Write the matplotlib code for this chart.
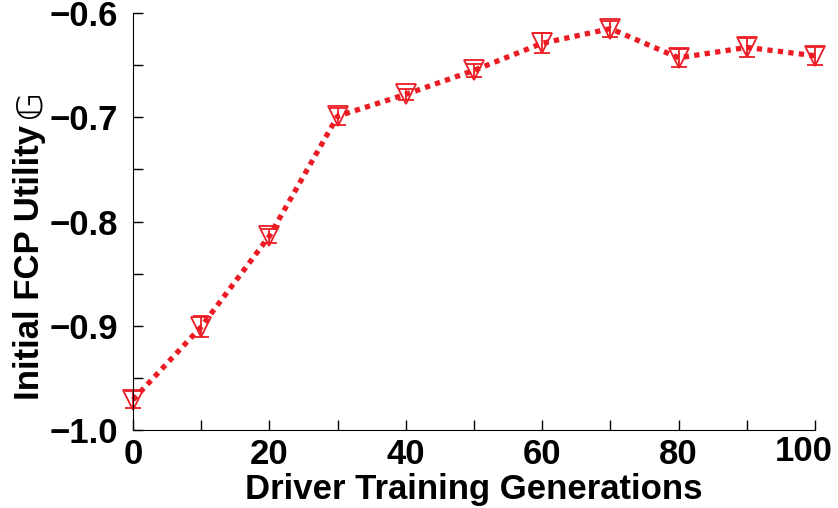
import matplotlib.pyplot as plt
from matplotlib.ticker import MultipleLocator

generations = [0, 10, 20, 30, 40, 50, 60, 70, 80, 90, 100]
utility = [-0.971, -0.901, -0.814, -0.699, -0.678, -0.655, -0.629, -0.615, -0.643, -0.633, -0.641]
errors = [0.008, 0.010, 0.007, 0.008, 0.005, 0.006, 0.0095, 0.0077, 0.0086, 0.009, 0.0086]
xticks = [0, 20, 40, 60, 80, 100]
yticks = [-1.0, -0.9, -0.8, -0.7, -0.6]

plt.rcParams['font.family'] = ['Liberation Sans', 'DejaVu Sans']

fig = plt.figure(figsize=(8.38, 5.08), dpi=100)
ax = fig.add_axes([0.1587, 0.1535, 0.8139, 0.8209])

red = '#ed1c24'
eb = ax.errorbar(generations, utility, yerr=errors, color=red, linestyle=(0, (1, 1)), linewidth=3.8,
                 marker='v', markersize=14, markerfacecolor='none', markeredgecolor=red,
                 markeredgewidth=1.3, ecolor=red, elinewidth=1.3, capsize=5.5, capthick=1.3)
for art in eb.get_children():
    art.set_clip_on(False)   # end markers hang over the axes edges like in the original

ax.set_xlim(0, 100)
ax.set_ylim(-1.0, -0.6)
ax.set_xticks(xticks)
ax.set_xticklabels([str(t) for t in xticks[:-1]] + [''], fontweight='bold')
ax.xaxis.set_minor_locator(MultipleLocator(10))
ax.set_yticks(yticks)
ax.set_yticklabels(['\u2212%.1f' % abs(t) for t in yticks], fontweight='bold')
ax.yaxis.set_minor_locator(MultipleLocator(0.05))

for s in ['top', 'right']:
    ax.spines[s].set_visible(False)
ax.tick_params(which='both', direction='in', labelsize=25, width=1, length=7)
ax.tick_params(axis='x', which='major', pad=5.5)
ax.tick_params(axis='y', which='major', pad=11)

# the "100" label sits a bit left of its tick so it fits inside the figure
ax.annotate(str(xticks[-1]), xy=(xticks[-1], 0), xycoords=('data', 'axes fraction'),
            xytext=(-11, -5), textcoords='offset pixels', ha='center', va='top',
            fontsize=25, fontweight='bold')

ax.set_xlabel('Driver Training Generations', fontsize=25, fontweight='bold', labelpad=2)
ax.set_ylabel('Initial FCP Utility', fontsize=25, fontweight='bold')
ax.yaxis.set_label_coords(-0.127, 0.402)
ax.text(-0.1496, 0.782, '\U0001D53E', transform=ax.transAxes, rotation=90,
        ha='center', va='center', fontsize=26, family=['DejaVu Sans', 'STIXGeneral'])

fig.savefig('out.png', dpi=100)
